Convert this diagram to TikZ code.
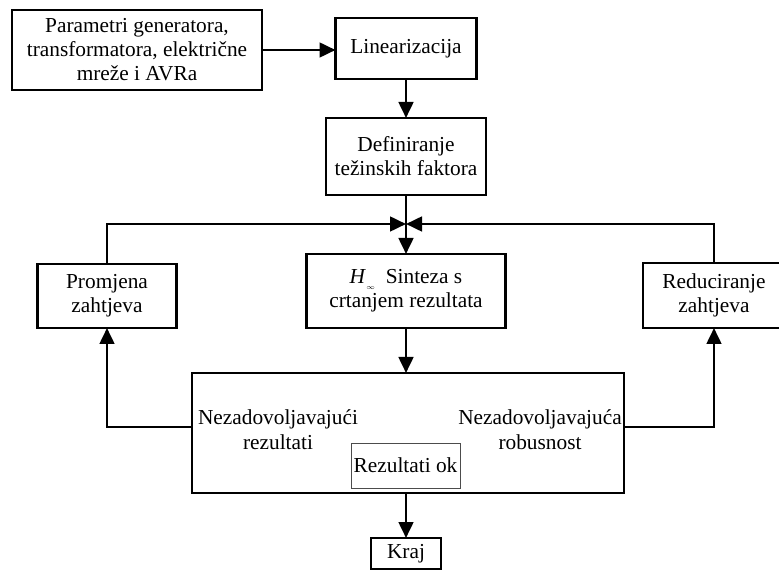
\documentclass[tikz,border=0pt]{standalone}
\usepackage{fontspec}
\setmainfont{Liberation Serif}
\usetikzlibrary{arrows.meta, calc}

\begin{document}
\begin{tikzpicture}[x=0.75pt, y=-0.75pt,
    box/.style={draw, line width=2pt, align=center, inner sep=0pt, outer sep=0pt, font=\fontsize{16}{18}\selectfont},
    okbox/.style={draw=black!70, line width=0.6pt, align=center, inner sep=0pt, font=\fontsize{16}{18}\selectfont},
    lbl/.style={align=center, inner sep=0pt, font=\fontsize{16}{18.5}\selectfont},
    arr/.style={line width=2pt, -{Triangle[length=12pt, width=11pt]}}]
    \useasboundingbox (0,0) rectangle (779,570);

    % --- TOP ROW ---
    \node[box, minimum width=187.5pt, minimum height=60pt] (par) at (137,50) {Parametri generatora,\\transformatora, električne\\mreže i AVRa};
    \node[box, minimum width=105.75pt, minimum height=45.75pt] (lin) at (406,48.5) {Linearizacija};
    \node[box, minimum width=120pt, minimum height=57.75pt] (def) at (406,156.5) {Definiranje\\težinskih faktora};

    % --- SYNTHESIS LOOP ---
    \coordinate (junc) at (406,224);
    \node[box, minimum width=149.25pt, minimum height=55.5pt] (hinf) at (406,291) {\textit{H}\raisebox{-0.6ex}{\tiny$\infty$}\ \ Sinteza s\\crtanjem rezultata};
    \node[box, minimum width=104.25pt, minimum height=48pt] (prom) at (107,296) {Promjena\\zahtjeva};
    \node[box, minimum width=106.5pt, minimum height=48.75pt] (red) at (714,295.5) {Reduciranje\\zahtjeva};

    % Evaluation box
    \node[box, minimum width=324pt, minimum height=90pt] (big) at (408,433) {};
    \node[lbl] (nezrez) at (278,430) {Nezadovoljavajući\\rezultati};
    \node[lbl] (nezrob) at (540,430) {Nezadovoljavajuća\\robusnost};
    \node[okbox, minimum width=81.75pt, minimum height=33.75pt] (ok) at (405.5,465.5) {Rezultati ok};
    \node[box, minimum width=52.5pt, minimum height=23.25pt] (kraj) at (406,553.5) {Kraj};
    \coordinate (bl) at (192,427);
    \coordinate (br) at (624,427);

    % --- CONNECTORS ---
    \draw[arr] (par.east) -- (par.east -| lin.west);
    \draw[arr] (lin) -- (def);
    \draw[arr] (def) -- (hinf);
    \draw[arr] (prom.north) |- (junc);
    \draw[arr] (red.north) |- (junc);
    \draw[arr] (hinf) -- (hinf |- big.north);
    \draw[arr] (bl) -| (prom.south);
    \draw[arr] (br) -| (red.south);
    \draw[arr] (kraj |- big.south) -- (kraj);
\end{tikzpicture}
\end{document}
